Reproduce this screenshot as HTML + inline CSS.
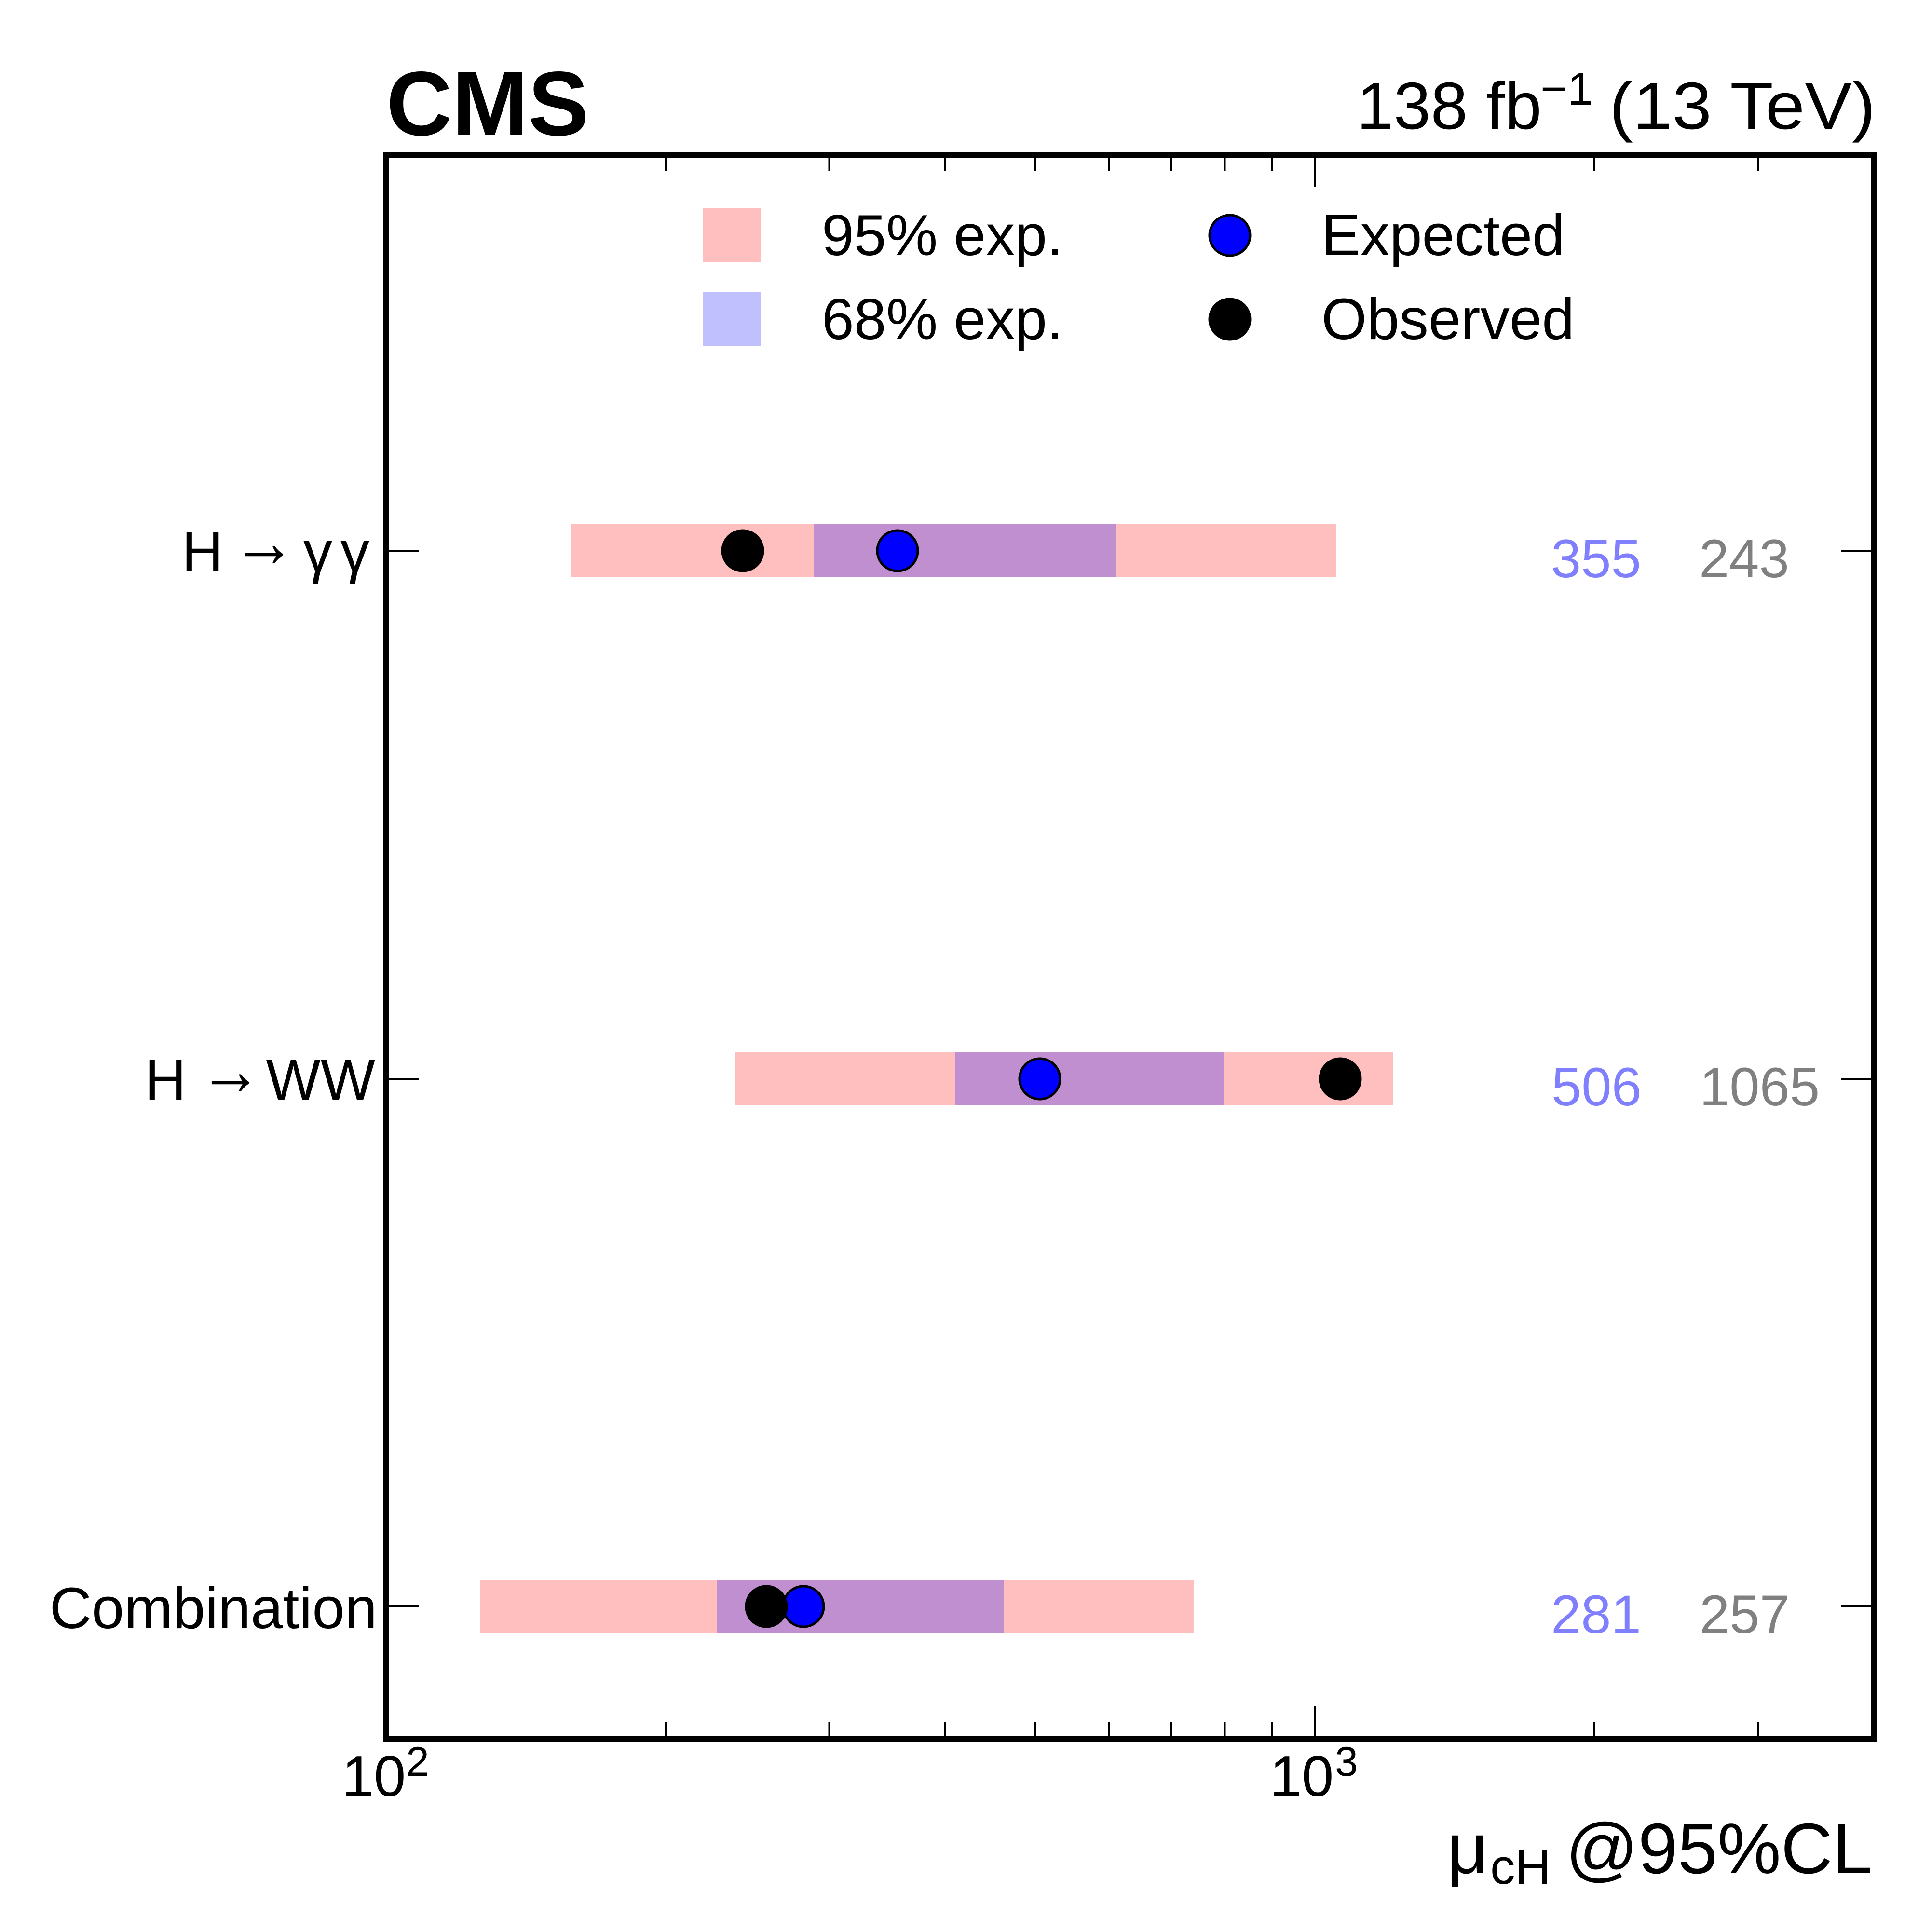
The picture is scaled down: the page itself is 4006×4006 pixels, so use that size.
<!DOCTYPE html>
<html>
<head>
<meta charset="utf-8">
<style>
html,body{margin:0;padding:0;background:#fff;}
svg{display:block;}
text{font-family:"Liberation Sans",Arial,sans-serif;}
</style>
</head>
<body>
<svg width="4006" height="4006" viewBox="0 0 4006 4006" xmlns="http://www.w3.org/2000/svg">
<rect x="0" y="0" width="4006" height="4006" fill="#fff"/>

<!-- Bars: gamma gamma (y=1142) -->
<rect x="1184" y="1086" width="1586" height="111" fill="#FFBFBF"/>
<rect x="1688" y="1086" width="625" height="111" fill="#C08FCF"/>
<!-- WW (y=2237) -->
<rect x="1523" y="2181" width="1366" height="111" fill="#FFBFBF"/>
<rect x="1980" y="2181" width="558" height="111" fill="#C08FCF"/>
<!-- Combination (y=3331) -->
<rect x="996" y="3276" width="1480" height="111" fill="#FFBFBF"/>
<rect x="1486" y="3276" width="596" height="111" fill="#C08FCF"/>

<!-- Markers -->
<circle cx="1861" cy="1142" r="42" fill="#0000FF" stroke="#000" stroke-width="5"/>
<circle cx="1540" cy="1142" r="44.5" fill="#000"/>
<circle cx="2156" cy="2237" r="42" fill="#0000FF" stroke="#000" stroke-width="5"/>
<circle cx="2779" cy="2237" r="44.5" fill="#000"/>
<circle cx="1666" cy="3331" r="42" fill="#0000FF" stroke="#000" stroke-width="5"/>
<circle cx="1589" cy="3331" r="44.5" fill="#000"/>

<!-- Frame -->
<rect x="801" y="321" width="3084" height="3284" fill="none" stroke="#000" stroke-width="12"/>

<!-- X ticks bottom & top -->
<g stroke="#000" stroke-width="4">
  <line x1="2726" y1="3599" x2="2726" y2="3538"/>
  <line x1="2726" y1="327" x2="2726" y2="388"/>
  <line x1="1380.5" y1="3599" x2="1380.5" y2="3571"/><line x1="1380.5" y1="327" x2="1380.5" y2="355"/>
  <line x1="1719.5" y1="3599" x2="1719.5" y2="3571"/><line x1="1719.5" y1="327" x2="1719.5" y2="355"/>
  <line x1="1960" y1="3599" x2="1960" y2="3571"/><line x1="1960" y1="327" x2="1960" y2="355"/>
  <line x1="2146.5" y1="3599" x2="2146.5" y2="3571"/><line x1="2146.5" y1="327" x2="2146.5" y2="355"/>
  <line x1="2299" y1="3599" x2="2299" y2="3571"/><line x1="2299" y1="327" x2="2299" y2="355"/>
  <line x1="2428" y1="3599" x2="2428" y2="3571"/><line x1="2428" y1="327" x2="2428" y2="355"/>
  <line x1="2539.5" y1="3599" x2="2539.5" y2="3571"/><line x1="2539.5" y1="327" x2="2539.5" y2="355"/>
  <line x1="2638" y1="3599" x2="2638" y2="3571"/><line x1="2638" y1="327" x2="2638" y2="355"/>
  <line x1="3305.5" y1="3599" x2="3305.5" y2="3571"/><line x1="3305.5" y1="327" x2="3305.5" y2="355"/>
  <line x1="3645" y1="3599" x2="3645" y2="3571"/><line x1="3645" y1="327" x2="3645" y2="355"/>
  <line x1="807" y1="1142" x2="868" y2="1142"/><line x1="3879" y1="1142" x2="3818" y2="1142"/>
  <line x1="807" y1="2237" x2="868" y2="2237"/><line x1="3879" y1="2237" x2="3818" y2="2237"/>
  <line x1="807" y1="3331" x2="868" y2="3331"/><line x1="3879" y1="3331" x2="3818" y2="3331"/>
</g>

<!-- CMS header -->
<text x="801" y="280" font-size="189" font-weight="bold" fill="#000">CMS</text>
<text x="2813" y="267" font-size="138" fill="#000">138 fb</text>
<text x="3194" y="217" font-size="96" fill="#000">−1</text>
<text x="3337" y="267" font-size="138" fill="#000" textLength="552" lengthAdjust="spacingAndGlyphs">(13 TeV)</text>

<!-- Legend -->
<rect x="1457" y="431" width="120" height="112" fill="#FFBFBF"/>
<rect x="1457" y="605" width="120" height="112" fill="#C0C0FE"/>
<text x="1704" y="529" font-size="120" fill="#000">95% exp.</text>
<text x="1704" y="703" font-size="120" fill="#000">68% exp.</text>
<circle cx="2550" cy="488" r="42" fill="#0000FF" stroke="#000" stroke-width="5"/>
<circle cx="2550" cy="662" r="44.5" fill="#000"/>
<text x="2740" y="529" font-size="121" fill="#000">Expected</text>
<text x="2740" y="703" font-size="121" fill="#000">Observed</text>

<!-- Y labels -->
<text x="377" y="1185" font-size="119" fill="#000">H</text>
<text x="482" y="1175" font-size="150" fill="#000" textLength="132" lengthAdjust="spacingAndGlyphs">→</text>
<text x="629" y="1185" font-size="120" fill="#000">γ</text>
<text x="706" y="1185" font-size="120" fill="#000">γ</text>

<text x="300" y="2280" font-size="119" fill="#000">H</text>
<text x="412" y="2270" font-size="150" fill="#000" textLength="132" lengthAdjust="spacingAndGlyphs">→</text>
<text x="778" y="2280" font-size="120" fill="#000" text-anchor="end">WW</text>

<text x="782" y="3376" font-size="121" fill="#000" text-anchor="end">Combination</text>

<!-- Right-side numbers -->
<g font-size="112">
<text x="3216" y="1197" fill="#8080FF">355</text>
<text x="3523" y="1197" fill="#808080">243</text>
<text x="3217" y="2292" fill="#8080FF">506</text>
<text x="3524" y="2292" fill="#808080">1065</text>
<text x="3216" y="3386" fill="#8080FF">281</text>
<text x="3524" y="3386" fill="#808080">257</text>
</g>

<!-- X tick labels -->
<text x="709" y="3724" font-size="119" fill="#000">10</text>
<text x="842" y="3682" font-size="86" fill="#000">2</text>
<text x="2633" y="3724" font-size="119" fill="#000">10</text>
<text x="2768" y="3682" font-size="86" fill="#000">3</text>

<!-- X axis title -->
<text x="3000" y="3884" font-size="148" fill="#000">μ</text>
<text x="3090" y="3906" font-size="103" fill="#000">cH</text>
<text x="3882" y="3884" font-size="148" fill="#000" text-anchor="end">@95%CL</text>
</svg>
</body>
</html>
